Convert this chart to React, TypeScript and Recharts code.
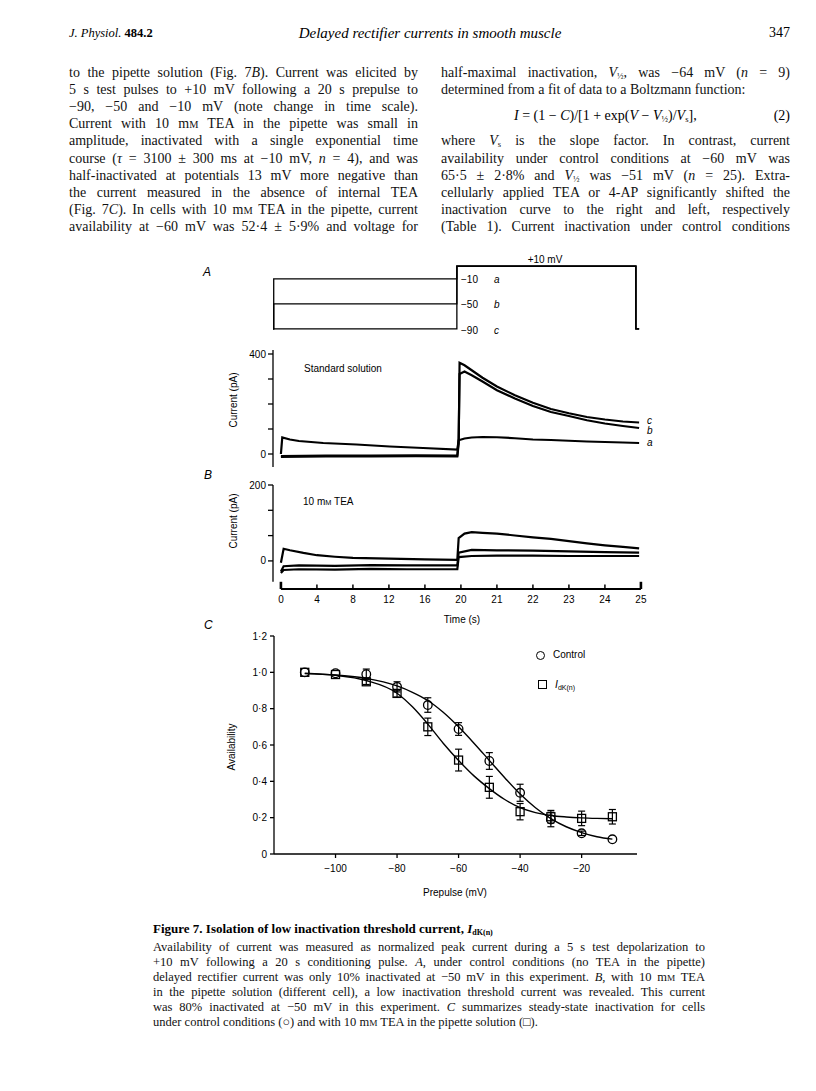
import React from 'react'
import {
  LineChart,
  ComposedChart,
  Line,
  Scatter,
  ErrorBar,
  XAxis,
  YAxis,
  ReferenceLine,
} from 'recharts'

// ---------- panel C: steady-state inactivation ----------
const prepulseMv = [-110, -100, -90, -80, -70, -60, -50, -40, -30, -20, -10]
const controlAvail = [1.0, 0.995, 0.99, 0.92, 0.82, 0.688, 0.512, 0.337, 0.19, 0.114, 0.081]
const controlSem = [0, 0, 0.028, 0.028, 0.04, 0.035, 0.046, 0.047, 0.04, 0.012, 0]
const idknAvail = [1.0, 0.988, 0.948, 0.884, 0.7, 0.517, 0.367, 0.233, 0.205, 0.196, 0.205]
const idknSem = [0, 0, 0.015, 0.02, 0.048, 0.06, 0.06, 0.045, 0.035, 0.04, 0.04]

// fitted Boltzmann curves
const fitMv = [-110, -100, -90, -80, -75, -70, -65, -60, -55, -50, -45, -40, -35, -30, -25, -20, -15, -10]
const controlFit = [0.993, 0.985, 0.967, 0.925, 0.89, 0.845, 0.78, 0.7, 0.61, 0.515, 0.42, 0.33, 0.255, 0.195, 0.15, 0.118, 0.095, 0.082]
const idknFit = [0.995, 0.984, 0.955, 0.885, 0.81, 0.715, 0.61, 0.515, 0.43, 0.36, 0.3, 0.255, 0.228, 0.212, 0.204, 0.199, 0.196, 0.194]

const availTicks = [0, 0.2, 0.4, 0.6, 0.8, 1.0, 1.2]
const prepulseTicks = [-100, -80, -60, -40, -20]

// ---------- panels A and B: current traces (time in s, current in pA) ----------
const timeTicks = [0, 4, 8, 12, 16, 20, 21, 22, 23, 24, 25]

const protoT = [-0.88, -0.8, 19.55, 24.86, 24.95]
const protoA = [-90, -10, 10, -90, -90]
const protoB = [-90, -50, 10, -90, -90]
const protoC = [-90, -90, 10, -90, -90]

const stdAT = [0, 0.15, 1, 2, 4.7, 8.4, 12.1, 15.8, 19.6, 19.75, 20.1, 20.3, 20.6, 21, 21.5, 22, 22.5, 23, 23.5, 24, 24.5, 24.95]
const stdAI = [0, 66, 58, 52, 44, 38, 30, 24, 18, 55, 62, 66, 68, 67, 63, 58, 56, 53, 50, 48, 46, 44]
const stdBCT = [0, 5, 10, 15, 19.6, 19.75, 19.85, 20.1, 20.3, 20.6, 21, 21.5, 22, 22.5, 23, 23.5, 24, 24.5, 24.95]
const stdBI = [-8, -6, -6, -5, -6, 60, 320, 330, 315, 290, 255, 222, 192, 168, 152, 135, 122, 112, 104]
const stdCI = [-12, -10, -10, -9, -10, 40, 365, 355, 335, 305, 270, 235, 205, 180, 163, 148, 138, 130, 126]

const teaAT = [0, 0.3, 1, 2.5, 4, 6, 8, 12, 16, 19.6, 19.75, 20.1, 20.3, 20.6, 21, 21.5, 22, 22.5, 23, 23.5, 24, 24.5, 24.95]
const teaAI = [-5, 32, 28, 21, 15, 11, 8, 6, 4, 3, 60, 72, 76, 74, 72, 67, 62, 58, 52, 46, 41, 37, 33]
const teaBCT = [0, 0.3, 2, 6, 10, 14, 19.6, 19.75, 20.3, 21, 22, 23, 24, 24.95]
const teaBI = [-28, -14, -12, -13, -11, -12, -12, 22, 29, 28, 27, 25, 23, 22]
const teaCI = [-32, -24, -22, -23, -21, -22, -22, 10, 13, 14, 14, 13, 13, 13]

// the time axis is compressed 4x over the 20 s prepulse
const toAxis = (t: number) => (t <= 20 ? t / 4 : t - 15)
const zip = (t: number[], v: number[]) => t.map((ti, k) => ({ u: toAxis(ti), v: v[k] }))
const pts = (x: number[], y: number[], e?: number[]) =>
  x.map((xi, k) => ({ x: xi, y: y[k], e: e ? e[k] : 0 }))

const U_MIN = -0.22
const U_MAX = 10.3
const PX_PER_U = 36
const PLOT_X = 273
const PLOT_W = (U_MAX - U_MIN) * PX_PER_U

const SERIF = '"Liberation Serif", "Times New Roman", serif'
const SANS = '"Liberation Sans", Arial, sans-serif'
const minus = (n: number) => (n < 0 ? '\u2212' + Math.abs(n) : String(n))
const dotDec = (v: number) => (v === 0 ? '0' : v.toFixed(1).replace('.', '\u00b7'))

const MM = () => (
  <>
    m<span style={{ fontSize: '0.74em' }}>M</span>
  </>
)
const Sub = ({ children }: any) => (
  <sub style={{ fontSize: '0.62em', verticalAlign: '-0.25em', lineHeight: 0 }}>{children}</sub>
)
const Vh = () => (
  <>
    <i>V</i>
    <Sub>½</Sub>
  </>
)

function BodyLine({ x, y, w, last, size = 14, children }: any) {
  return (
    <div
      style={{
        position: 'absolute',
        left: x,
        top: y - 9,
        width: w,
        height: 18,
        lineHeight: '18px',
        fontSize: size,
        fontFamily: SERIF,
        textAlign: 'justify',
        textAlignLast: last ? 'left' : 'justify',
        color: '#111',
      }}
    >
      {children}
    </div>
  )
}

function Label({ x, y, size = 10, center, italic, rotate, children, font = SANS }: any) {
  const tf = rotate
    ? 'translate(-50%, -50%) rotate(-90deg)'
    : center
      ? 'translate(-50%, -50%)'
      : 'translateY(-50%)'
  return (
    <div
      style={{
        position: 'absolute',
        left: x,
        top: y,
        transform: tf,
        fontSize: size,
        lineHeight: 1,
        whiteSpace: 'nowrap',
        fontFamily: font,
        fontStyle: italic ? 'italic' : 'normal',
        color: '#000',
      }}
    >
      {children}
    </div>
  )
}

const axisTick = { fontSize: 10, fill: '#000', fontFamily: SANS }
const blackLine = { stroke: '#000', strokeWidth: 1.3 }

function Protocol() {
  const lines = [protoA, protoB, protoC]
  return (
    <div style={{ position: 'absolute', left: PLOT_X - 5, top: 260.4 }}>
      <LineChart width={PLOT_W + 10} height={77} margin={{ top: 5, right: 5, bottom: 5, left: 5 }}>
        <XAxis type="number" dataKey="u" domain={[U_MIN, U_MAX]} hide allowDataOverflow />
        <YAxis type="number" domain={[-95, 12]} hide allowDataOverflow />
        {lines.map((v, k) => (
          <Line
            key={k}
            data={zip(protoT, v)}
            dataKey="v"
            type="stepAfter"
            stroke="#000"
            strokeWidth={1.3}
            dot={false}
            isAnimationActive={false}
          />
        ))}
      </LineChart>
    </div>
  )
}

function StandardPanel() {
  const traces = [zip(stdAT, stdAI), zip(stdBCT, stdBI), zip(stdBCT, stdCI)]
  return (
    <div style={{ position: 'absolute', left: PLOT_X - 40, top: 340 }}>
      <LineChart width={40 + PLOT_W + 5} height={137} margin={{ top: 10, right: 5, bottom: 10, left: 0 }}>
        <XAxis type="number" dataKey="u" domain={[U_MIN, U_MAX]} hide allowDataOverflow />
        <YAxis
          type="number"
          domain={[-52, 416]}
          ticks={[0, 100, 200, 300, 400]}
          interval={0}
          width={40}
          tickSize={5}
          tickMargin={2}
          tickFormatter={(v: number) => (v === 0 || v === 400 ? String(v) : '')}
          axisLine={blackLine}
          tickLine={blackLine}
          tick={axisTick}
          allowDataOverflow
        />
        {traces.map((d, k) => (
          <Line
            key={k}
            data={d}
            dataKey="v"
            type="linear"
            stroke="#000"
            strokeWidth={2.2}
            dot={false}
            isAnimationActive={false}
          />
        ))}
      </LineChart>
    </div>
  )
}

function TeaPanel() {
  const traces = [zip(teaAT, teaAI), zip(teaBCT, teaBI), zip(teaBCT, teaCI)]
  const tickU = timeTicks.map(toAxis)
  return (
    <div style={{ position: 'absolute', left: PLOT_X - 40, top: 475 }}>
      <LineChart width={40 + PLOT_W + 5} height={139} margin={{ top: 10, right: 5, bottom: 0, left: 0 }}>
        <XAxis
          type="number"
          dataKey="u"
          domain={[U_MIN, U_MAX]}
          ticks={tickU}
          interval={0}
          height={25}
          tickSize={0}
          tickMargin={7}
          tickLine={false}
          axisLine={false}
          tick={axisTick}
          tickFormatter={(u: number) => String(timeTicks[tickU.indexOf(u)])}
          allowDataOverflow
        />
        <YAxis
          type="number"
          domain={[-74, 200]}
          ticks={[0, 200 / 3, 400 / 3, 200]}
          interval={0}
          width={40}
          tickSize={5}
          tickMargin={2}
          tickFormatter={(v: number) => (v === 0 || v === 200 ? String(v) : '')}
          axisLine={false}
          tickLine={blackLine}
          tick={axisTick}
          allowDataOverflow
        />
        <ReferenceLine
          segment={[{ x: U_MIN, y: -55 }, { x: U_MIN, y: 200 }]}
          stroke="#000"
          strokeWidth={1.3}
          ifOverflow="visible"
        />
        <ReferenceLine
          segment={[{ x: 0, y: -74 }, { x: 10, y: -74 }]}
          stroke="#000"
          strokeWidth={1.8}
          ifOverflow="visible"
        />
        {tickU.map((u, k) => {
          const end = k === 0 || k === tickU.length - 1
          return (
            <ReferenceLine
              key={'t' + k}
              segment={[{ x: u, y: -74 }, { x: u, y: end ? -55 : -62 }]}
              stroke="#000"
              strokeWidth={end ? 2.6 : 1.5}
              ifOverflow="visible"
            />
          )
        })}
        {traces.map((d, k) => (
          <Line
            key={k}
            data={d}
            dataKey="v"
            type="linear"
            stroke="#000"
            strokeWidth={2.2}
            dot={false}
            isAnimationActive={false}
          />
        ))}
      </LineChart>
    </div>
  )
}

const OpenCircle = (p: any) => (
  <circle cx={p.cx} cy={p.cy} r={4.3} fill="none" stroke="#000" strokeWidth={1.3} />
)
const OpenSquare = (p: any) => (
  <rect x={p.cx - 4} y={p.cy - 4} width={8} height={8} fill="none" stroke="#000" strokeWidth={1.3} />
)

function InactivationPanel() {
  return (
    <div style={{ position: 'absolute', left: 234, top: 628 }}>
      <ComposedChart width={413} height={246} margin={{ top: 8, right: 10, bottom: 0, left: 0 }}>
        <XAxis
          type="number"
          dataKey="x"
          domain={[-120, -2]}
          ticks={prepulseTicks}
          interval={0}
          height={20}
          tickSize={4}
          tickMargin={7}
          tickFormatter={minus}
          axisLine={blackLine}
          tickLine={blackLine}
          tick={axisTick}
          allowDataOverflow
        />
        <YAxis
          type="number"
          domain={[0, 1.2]}
          ticks={availTicks}
          interval={0}
          width={40}
          tickSize={4}
          tickMargin={3}
          tickFormatter={dotDec}
          axisLine={blackLine}
          tickLine={blackLine}
          tick={axisTick}
          allowDataOverflow
        />
        <Line
          data={pts(fitMv, controlFit)}
          dataKey="y"
          type="monotone"
          stroke="#000"
          strokeWidth={1.4}
          dot={false}
          isAnimationActive={false}
        />
        <Line
          data={pts(fitMv, idknFit)}
          dataKey="y"
          type="monotone"
          stroke="#000"
          strokeWidth={1.4}
          dot={false}
          isAnimationActive={false}
        />
        <Scatter
          data={pts(prepulseMv, controlAvail, controlSem)}
          dataKey="y"
          shape={OpenCircle}
          isAnimationActive={false}
        >
          <ErrorBar dataKey="e" direction="y" width={3.5} stroke="#000" strokeWidth={1.2} />
        </Scatter>
        <Scatter
          data={pts(prepulseMv, idknAvail, idknSem)}
          dataKey="y"
          shape={OpenSquare}
          isAnimationActive={false}
        >
          <ErrorBar dataKey="e" direction="y" width={3.5} stroke="#000" strokeWidth={1.2} />
        </Scatter>
      </ComposedChart>
    </div>
  )
}

export default function App() {
  const L = 69
  const R = 441
  const W = 349
  const row = (i: number) => 73 + 17.1 * i
  return (
    <div
      style={{
        position: 'absolute',
        left: 0,
        top: 0,
        width: 816,
        height: 1091,
        background: '#fff',
        overflow: 'hidden',
      }}
    >
      {/* running head */}
      <Label x={L} y={33} size={12.5} font={SERIF}>
        <i>J. Physiol.</i> <b>484.2</b>
      </Label>
      <Label x={430} y={33} size={15} font={SERIF} center italic>
        Delayed rectifier currents in smooth muscle
      </Label>
      <div
        style={{
          position: 'absolute',
          right: 816 - 790,
          top: 25,
          fontSize: 14,
          fontFamily: SERIF,
          lineHeight: '16px',
        }}
      >
        347
      </div>

      {/* left column */}
      <BodyLine x={L} y={row(0)} w={W}>
        to the pipette solution (Fig. 7<i>B</i>). Current was elicited by
      </BodyLine>
      <BodyLine x={L} y={row(1)} w={W}>
        5 s test pulses to +10 mV following a 20 s prepulse to
      </BodyLine>
      <BodyLine x={L} y={row(2)} w={W}>
        −90, −50 and −10 mV (note change in time scale).
      </BodyLine>
      <BodyLine x={L} y={row(3)} w={W}>
        Current with 10 <MM /> TEA in the pipette was small in
      </BodyLine>
      <BodyLine x={L} y={row(4)} w={W}>
        amplitude, inactivated with a single exponential time
      </BodyLine>
      <BodyLine x={L} y={row(5)} w={W}>
        course (<i>τ</i> = 3100 ± 300 ms at −10 mV, <i>n</i> = 4), and was
      </BodyLine>
      <BodyLine x={L} y={row(6)} w={W}>
        half-inactivated at potentials 13 mV more negative than
      </BodyLine>
      <BodyLine x={L} y={row(7)} w={W}>
        the current measured in the absence of internal TEA
      </BodyLine>
      <BodyLine x={L} y={row(8)} w={W}>
        (Fig. 7<i>C</i>). In cells with 10 <MM /> TEA in the pipette, current
      </BodyLine>
      <BodyLine x={L} y={row(9)} w={W}>
        availability at −60 mV was 52·4 ± 5·9% and voltage for
      </BodyLine>

      {/* right column */}
      <BodyLine x={R} y={row(0)} w={W}>
        half-maximal inactivation, <Vh />, was −64 mV (<i>n</i> = 9)
      </BodyLine>
      <BodyLine x={R} y={row(1)} w={W} last>
        determined from a fit of data to a Boltzmann function:
      </BodyLine>
      <Label x={514} y={row(2.5)} size={14} font={SERIF}>
        <i>I</i> = (1 − <i>C</i>)/[1 + exp(<i>V</i> − <Vh />)/<i>V</i>
        <Sub>s</Sub>],
      </Label>
      <div
        style={{
          position: 'absolute',
          right: 816 - 790,
          top: row(2.5) - 9,
          fontSize: 14,
          lineHeight: '18px',
          fontFamily: SERIF,
        }}
      >
        (2)
      </div>
      <BodyLine x={R} y={row(4)} w={W}>
        where <i>V</i>
        <Sub>s</Sub> is the slope factor. In contrast, current
      </BodyLine>
      <BodyLine x={R} y={row(5)} w={W}>
        availability under control conditions at −60 mV was
      </BodyLine>
      <BodyLine x={R} y={row(6)} w={W}>
        65·5 ± 2·8% and <Vh /> was −51 mV (<i>n</i> = 25). Extra-
      </BodyLine>
      <BodyLine x={R} y={row(7)} w={W}>
        cellularly applied TEA or 4-AP significantly shifted the
      </BodyLine>
      <BodyLine x={R} y={row(8)} w={W}>
        inactivation curve to the right and left, respectively
      </BodyLine>
      <BodyLine x={R} y={row(9)} w={W}>
        (Table 1). Current inactivation under control conditions
      </BodyLine>

      {/* panel A */}
      <Label x={203} y={272} size={12} italic>
        A
      </Label>
      <Protocol />
      <Label x={545} y={260} size={10} center>
        +10 mV
      </Label>
      <Label x={461} y={280}>−10</Label>
      <Label x={494} y={280} italic>
        a
      </Label>
      <Label x={461} y={305}>−50</Label>
      <Label x={494} y={305} italic>
        b
      </Label>
      <Label x={461} y={331}>−90</Label>
      <Label x={494} y={331} italic>
        c
      </Label>
      <StandardPanel />
      <Label x={304} y={369}>Standard solution</Label>
      <Label x={234} y={400} rotate>
        Current (pA)
      </Label>
      <Label x={647} y={421} italic>
        c
      </Label>
      <Label x={647} y={431} italic>
        b
      </Label>
      <Label x={647} y={443} italic>
        a
      </Label>

      {/* panel B */}
      <Label x={204} y={475} size={12} italic>
        B
      </Label>
      <TeaPanel />
      <Label x={303} y={502}>
        10 <MM /> TEA
      </Label>
      <Label x={234} y={521} rotate>
        Current (pA)
      </Label>
      <Label x={462} y={620} center>
        Time (s)
      </Label>

      {/* panel C */}
      <Label x={204} y={625} size={12} italic>
        C
      </Label>
      <InactivationPanel />
      <Label x={232} y={747} rotate>
        Availability
      </Label>
      <Label x={455} y={893} center>
        Prepulse (mV)
      </Label>
      <div
        style={{
          position: 'absolute',
          left: 536,
          top: 651,
          width: 7,
          height: 7,
          border: '1.3px solid #000',
          borderRadius: '50%',
        }}
      />
      <Label x={553} y={655}>Control</Label>
      <div
        style={{
          position: 'absolute',
          left: 538,
          top: 680,
          width: 7,
          height: 7,
          border: '1.3px solid #000',
        }}
      />
      <Label x={555} y={685} size={10.5}>
        <i>I</i>
        <sub style={{ fontSize: 7, verticalAlign: '-0.35em' }}>dK(n)</sub>
      </Label>

      {/* caption */}
      <Label x={153} y={928} size={13} font={SERIF}>
        <b>
          Figure 7. Isolation of low inactivation threshold current, <i>I</i>
          <Sub>dK(n)</Sub>
        </b>
      </Label>
      {[
        <>Availability of current was measured as normalized peak current during a 5 s test depolarization to</>,
        <>
          +10 mV following a 20 s conditioning pulse. <i>A</i>, under control conditions (no TEA in the pipette)
        </>,
        <>
          delayed rectifier current was only 10% inactivated at −50 mV in this experiment. <i>B</i>, with 10{' '}
          <MM /> TEA
        </>,
        <>in the pipette solution (different cell), a low inactivation threshold current was revealed. This current</>,
        <>
          was 80% inactivated at −50 mV in this experiment. <i>C</i> summarizes steady-state inactivation for cells
        </>,
        <>
          under control conditions (○) and with 10 <MM /> TEA in the pipette solution (□).
        </>,
      ].map((content, i) => (
        <BodyLine key={i} x={153} y={947 + 15 * i} w={552} size={12.5} last={i === 5}>
          {content}
        </BodyLine>
      ))}
    </div>
  )
}
